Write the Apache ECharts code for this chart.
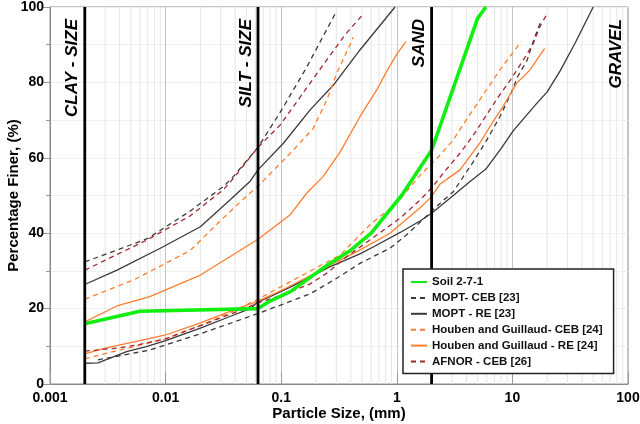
<!DOCTYPE html>
<html><head><meta charset="utf-8">
<script src="https://cdn.jsdelivr.net/npm/echarts@6/dist/echarts.min.js"></script>
<style>html,body{margin:0;padding:0;background:#fff}#c{width:640px;height:424px}</style>
</head><body><div id="c"></div>
<script>
// ---- data (particle size mm, percent finer) ----
const soil = [[0.002,16],[0.006,19.3],[0.063,20],[0.08,22],[0.12,24.5],[0.25,31.5],[0.4,35.5],[0.6,40],[1.1,50],[2,62],[5,97],[5.9,100]];
const moptCebUpper = [[0.002,32.4],[0.004,35.8],[0.007,38.6],[0.016,45.7],[0.032,52.5],[0.0385,55],[0.063,62.8],[0.1,72.5],[0.166,84],[0.2,88.7],[0.3,98.8]];
const moptCebLower = [[0.0026,6.4],[0.0073,9],[0.02,13.3],[0.063,18.7],[0.12,21.9],[0.18,24],[0.32,28.5],[0.48,32],[0.87,36],[1.21,39.5],[2.36,47.9],[3.08,51],[3.76,55],[4.6,59],[6,64.7],[7.8,70.9],[9.6,76.7],[11.1,81.5],[13.4,85.9],[15.2,91],[17.5,96]];
const moptReUpper = [[0.002,26.4],[0.0038,30.2],[0.009,36],[0.02,41.7],[0.036,48.8],[0.0536,53.7],[0.063,56.8],[0.104,63.8],[0.178,72.7],[0.283,79.3],[0.48,88.6],[0.965,100]];
const moptReLower = [[0.002,5.5],[0.0026,5.6],[0.0046,8.6],[0.0068,9.9],[0.01,11.5],[0.02,14.8],[0.036,17.9],[0.054,20],[0.063,21.8],[0.08,23.2],[0.12,25.7],[0.26,31],[0.48,34.5],[0.63,36.4],[1.07,40.2],[1.6,43.3],[2,45.3],[3.08,50],[4.3,53.7],[5.9,57],[8,62.5],[10.2,67.2],[16.3,74.5],[20,77.5],[25.8,83],[35,90.5],[50,100]];
const houbenCebUpper = [[0.002,22.5],[0.0053,27.6],[0.0163,35.4],[0.0315,44],[0.045,48.5],[0.063,52.5],[0.08,55.7],[0.127,62],[0.189,67.8],[0.248,75.3],[0.302,82.4],[0.394,90],[0.42,92]];
const houbenCebLower = [[0.002,6.7],[0.004,9],[0.006,10.3],[0.01,12],[0.02,15.5],[0.04,19.5],[0.063,22.5],[0.119,27.1],[0.323,34.2],[0.6,42.5],[1,48],[1.59,55.4],[2.16,59.4],[3.08,64.7],[3.6,68],[5.2,75.3],[7.8,83.3],[11.6,90.4],[12,90.8]];
const houbenReUpper = [[0.002,16.5],[0.0038,20.7],[0.0073,23.2],[0.02,28.9],[0.063,38.4],[0.119,44.8],[0.166,50.6],[0.23,55],[0.323,61.5],[0.48,70.9],[0.67,78],[0.82,83],[1,87.5],[1.2,90.8]];
const houbenReLower = [[0.002,8],[0.003,9.5],[0.006,11.5],[0.01,13],[0.02,16.2],[0.04,19.8],[0.063,22],[0.1,24.8],[0.2,29.5],[0.283,32],[0.452,35.1],[0.873,40],[1.6,46.8],[2,49.7],[2.36,53],[3.52,56.8],[5.2,63.8],[6.8,69.6],[8.3,73.6],[10.9,79.8],[14.2,83.3],[19,89]];
const afnorUpper = [[0.002,30.2],[0.0069,38.2],[0.0163,44.6],[0.0315,51.5],[0.0385,54.5],[0.063,62.8],[0.098,68.7],[0.2,82],[0.356,92.6],[0.513,98.1]];
const afnorLower = [[0.002,8.7],[0.004,9.6],[0.006,10.5],[0.01,12],[0.02,15.5],[0.04,19],[0.063,21.5],[0.1,23.5],[0.177,26.5],[0.248,29.4],[0.37,33.8],[1.07,44],[1.59,48.8],[2,52],[2.52,55.9],[3.52,61.2],[4.6,66],[5.2,68.5],[7.3,75.5],[9.6,80.6],[12.4,85.9],[15.2,90.4],[17.3,94.8],[19.8,98]];

const boundaries = [0.002, 0.063, 2];
const zoneLabels = ['CLAY - SIZE', 'SILT - SIZE', 'SAND', 'GRAVEL'];
const xTickLabels = ['0.001','0.01','0.1','1','10','100'];
const names = ['Soil 2-7-1','MOPT- CEB [23]','MOPT - RE [23]','Houben and Guillaud- CEB [24]','Houben and Guillaud - RE [24]','AFNOR - CEB [26]'];

const FONT = "'Liberation Sans', Arial, sans-serif";
const C_GREEN = '#11ee11', C_GRAY = '#3a3a3a', C_ORANGE = '#ff7d2e', C_RED = '#a1282c';

// minor vertical grid lines (2..9 in each decade), as one broken line
const minorGrid = [];
for (let d = -3; d < 2; d++) for (let k = 2; k <= 9; k++) {
  const v = k * Math.pow(10, d);
  minorGrid.push([v, 0], [v, 100], [v, '-']);
}

function line(name, data, color, dashed, width) {
  return {
    name, type: 'line', data, symbol: 'none', showSymbol: false, smooth: false, z: 3,
    lineStyle: {color, width: width || 1.3, type: dashed ? [5, 4] : 'solid'},
    itemStyle: {color}, emphasis: {disabled: true}, animation: false
  };
}

const chart = echarts.init(document.getElementById('c'), null, {renderer: 'canvas'});
const option = {
  animation: false,
  backgroundColor: '#fff',
  grid: {left: 50, right: 12, top: 7, bottom: 40, show: true, borderColor: '#8a8a8a', borderWidth: 1,
    containLabel: false, outerBoundsMode: 'none'},
  xAxis: {
    type: 'log', logBase: 10, min: 0.001, max: 100,
    name: 'Particle Size, (mm)', nameLocation: 'middle', nameGap: 22, nameMoveOverlap: false,
    nameTextStyle: {fontFamily: FONT, fontWeight: 'bold', fontSize: 15, color: '#000', verticalAlign: 'top'},
    axisLine: {show: true, lineStyle: {color: '#8a8a8a'}},
    axisTick: {show: true, inside: true, length: 12, lineStyle: {color: '#999'}},
    axisLabel: {fontFamily: FONT, fontWeight: 'bold', fontSize: 14, color: '#000', margin: 7,
      hideOverlap: false, showMinLabel: true, showMaxLabel: true,
      formatter: v => xTickLabels[Math.round(Math.log10(v)) + 3]},
    splitLine: {show: true, lineStyle: {color: '#c4c4c4', width: 1}},
    minorTick: {show: false}, minorSplitLine: {show: false}
  },
  yAxis: {
    type: 'value', min: 0, max: 100, interval: 20,
    name: 'Percentage Finer, (%)', nameLocation: 'middle', nameGap: 36, nameRotate: 90, nameMoveOverlap: false,
    nameTextStyle: {fontFamily: FONT, fontWeight: 'bold', fontSize: 15, color: '#000', verticalAlign: 'middle'},
    axisLine: {show: true, lineStyle: {color: '#8a8a8a'}},
    axisTick: {show: true, inside: false, length: 7, lineStyle: {color: '#999'}},
    minorTick: {show: true, splitNumber: 2, length: 4, lineStyle: {color: '#999'}},
    axisLabel: {fontFamily: FONT, fontWeight: 'bold', fontSize: 14, color: '#000', margin: 6,
      showMinLabel: true, showMaxLabel: true},
    splitLine: {show: true, lineStyle: {color: '#f0f0f0'}},
    minorSplitLine: {show: true, lineStyle: {color: '#f0f0f0'}}
  },
  legend: {
    show: true, data: names, orient: 'vertical', left: 403, top: 269,
    backgroundColor: '#fff', borderColor: '#222', borderWidth: 1.5, borderRadius: 0,
    padding: [7, 11, 6, 7], itemWidth: 16, itemHeight: 12, itemGap: 3.9,
    itemStyle: {opacity: 0},
    textStyle: {fontFamily: FONT, fontWeight: 'bold', fontSize: 11.5, color: '#111'},
    selectedMode: false, z: 10
  },
  series: [
    {name: '_grid', type: 'line', data: minorGrid, z: 1, silent: true, symbol: 'none', showSymbol: false,
      connectNulls: false, lineStyle: {color: '#e6e6e6', width: 1}, emphasis: {disabled: true}},
    line(names[1], moptCebUpper, C_GRAY, true),
    line(names[1], moptCebLower, C_GRAY, true),
    line(names[2], moptReUpper, C_GRAY, false),
    line(names[2], moptReLower, C_GRAY, false),
    line(names[3], houbenCebUpper, C_ORANGE, true),
    line(names[3], houbenCebLower, C_ORANGE, true),
    line(names[4], houbenReUpper, C_ORANGE, false),
    line(names[4], houbenReLower, C_ORANGE, false),
    line(names[5], afnorUpper, C_RED, true),
    line(names[5], afnorLower, C_RED, true)
  ].concat(boundaries.map((b, i) => ({
    name: '_bound' + i, type: 'line', data: [[b, 0], [b, 100]], z: 4, silent: true,
    symbol: 'none', showSymbol: false, lineStyle: {color: '#000', width: 2.8}, emphasis: {disabled: true}
  }))).concat([line(names[0], soil, C_GREEN, false, 3.6)])
};
chart.setOption(option);

// zone labels, placed through the axis scale
const labelX = boundaries.concat([100]);
const graphics = zoneLabels.map((t, i) => {
  const p = chart.convertToPixel({gridIndex: 0}, [labelX[i], 100]);
  return {
    type: 'text', x: p[0] - 12, y: p[1] + 12, rotation: Math.PI / 2, z: 20,
    style: {text: t, fontFamily: FONT, fontWeight: 'bold', fontStyle: 'italic', fontSize: 17,
      fill: '#000', align: 'right', verticalAlign: 'middle'}
  };
});
chart.setOption({graphic: graphics});
</script></body></html>
